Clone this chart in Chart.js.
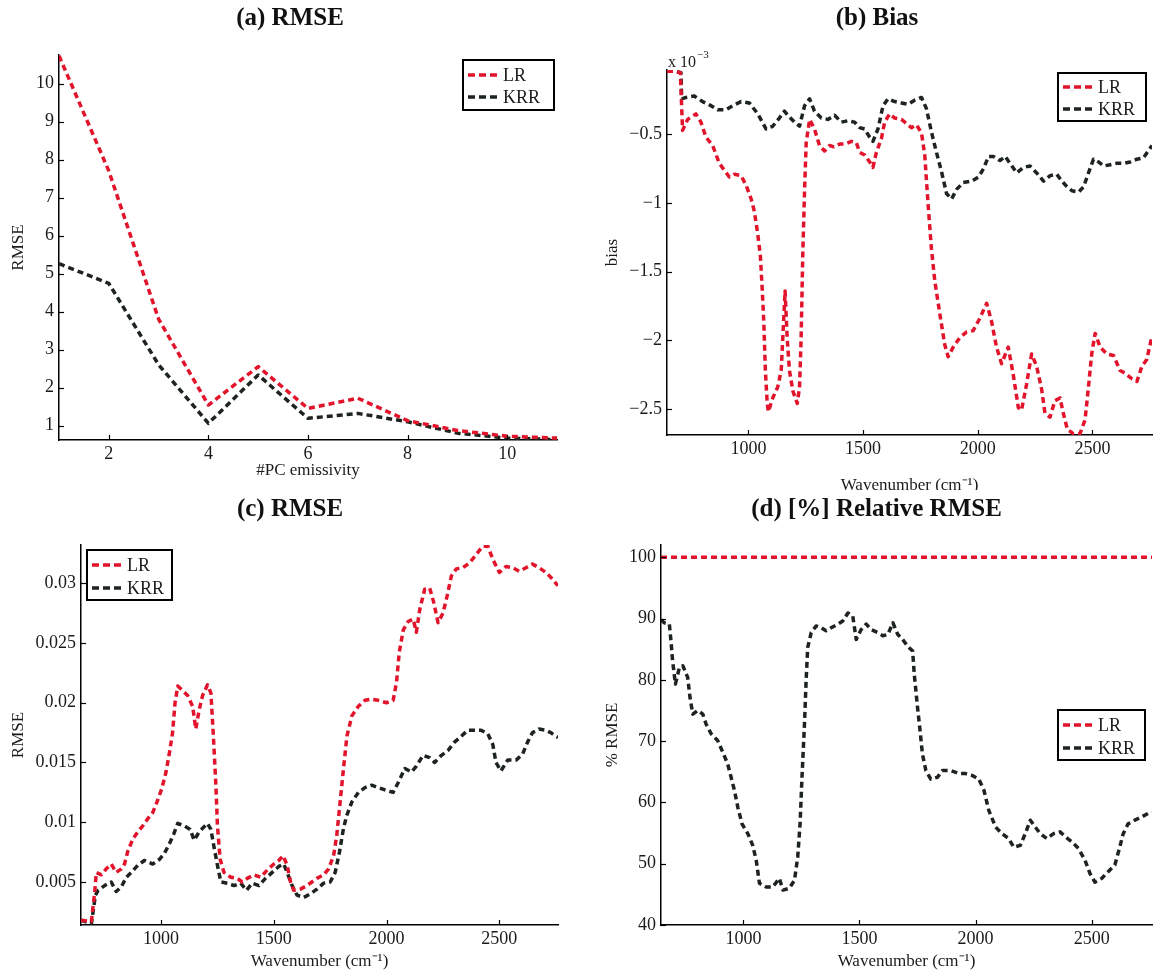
<!DOCTYPE html>
<html><head><meta charset="utf-8">
<script src="https://cdn.jsdelivr.net/npm/chart.js@4.4.1/dist/chart.umd.min.js"></script>
<style>
html,body{margin:0;padding:0;background:#fff;width:1158px;height:975px;overflow:hidden;}
canvas{position:absolute;}
</style></head><body>
<canvas id="ca" width="580" height="490" style="left:0;top:0"></canvas>
<canvas id="cb" width="578" height="490" style="left:580px;top:0"></canvas>
<canvas id="cc" width="580" height="485" style="left:0;top:490px"></canvas>
<canvas id="cd" width="578" height="485" style="left:580px;top:490px"></canvas>
<script>
// ---------- (a) RMSE vs #PC emissivity ----------
const aPC = [1,2,3,4,5,6,7,8,9,10,11];
const aLR = [10.73,7.7,3.8,1.54,2.55,1.45,1.72,1.13,0.87,0.72,0.67];
const aKRR = [5.26,4.74,2.6,1.06,2.33,1.19,1.32,1.1,0.8,0.67,0.63];
const aXTicks = [2,4,6,8,10];
const aYTicks = [1,2,3,4,5,6,7,8,9,10];

// ---------- (b) Bias (x 10^-3) ----------
const bLRWn = [645,680,703,713,735,771,793,815,844,873,895,917,939,968,990,1012,1026,1041,1052,1060,1067,1074,1082,1087,1106,1128,1143,1150,1160,1169,1179,1194,1213,1223,1230,1237,1245,1252,1267,1288,1310,1332,1354,1373,1398,1420,1449,1471,1485,1507,1529,1543,1558,1580,1594,1616,1638,1667,1682,1711,1733,1755,1769,1784,1798,1813,1835,1856,1871,1893,1922,1951,1980,2009,2039,2060,2082,2104,2133,2155,2177,2191,2213,2235,2257,2279,2293,2315,2337,2359,2373,2391,2417,2446,2468,2483,2497,2512,2534,2563,2592,2621,2643,2672,2694,2716,2737,2760];
const bLR = [-0.04,-0.04,-0.05,-0.47,-0.39,-0.35,-0.41,-0.52,-0.58,-0.71,-0.76,-0.81,-0.79,-0.80,-0.87,-0.97,-1.06,-1.23,-1.38,-1.62,-1.86,-2.22,-2.46,-2.52,-2.42,-2.34,-2.22,-1.98,-1.64,-1.98,-2.22,-2.37,-2.46,-2.34,-1.98,-1.38,-0.90,-0.56,-0.39,-0.46,-0.58,-0.62,-0.58,-0.59,-0.57,-0.57,-0.55,-0.56,-0.63,-0.65,-0.70,-0.74,-0.63,-0.53,-0.41,-0.35,-0.38,-0.39,-0.41,-0.45,-0.43,-0.49,-0.65,-1.02,-1.33,-1.57,-1.81,-2.03,-2.12,-2.05,-1.98,-1.94,-1.93,-1.84,-1.73,-1.86,-2.05,-2.17,-2.05,-2.25,-2.49,-2.51,-2.32,-2.10,-2.19,-2.36,-2.53,-2.56,-2.44,-2.42,-2.53,-2.65,-2.68,-2.68,-2.58,-2.34,-2.10,-1.95,-2.05,-2.10,-2.11,-2.22,-2.24,-2.28,-2.30,-2.19,-2.14,-1.97];
const bKRRWn = [645,680,706,709,728,764,800,837,866,902,932,968,1004,1041,1077,1106,1135,1157,1172,1201,1223,1245,1267,1288,1318,1347,1376,1405,1434,1463,1485,1507,1529,1543,1565,1587,1609,1638,1667,1696,1725,1755,1776,1798,1820,1842,1864,1886,1908,1937,1974,2003,2025,2047,2068,2097,2120,2149,2170,2199,2228,2257,2287,2316,2345,2367,2389,2411,2440,2462,2483,2505,2527,2549,2578,2607,2636,2665,2694,2723,2752,2760];
const bKRR = [-0.04,-0.04,-0.05,-0.24,-0.23,-0.22,-0.26,-0.29,-0.32,-0.32,-0.29,-0.26,-0.27,-0.35,-0.46,-0.44,-0.38,-0.33,-0.36,-0.41,-0.44,-0.29,-0.24,-0.33,-0.38,-0.39,-0.36,-0.41,-0.40,-0.41,-0.45,-0.46,-0.52,-0.55,-0.46,-0.29,-0.24,-0.26,-0.27,-0.28,-0.25,-0.23,-0.31,-0.48,-0.63,-0.77,-0.93,-0.97,-0.90,-0.85,-0.84,-0.81,-0.75,-0.66,-0.66,-0.69,-0.66,-0.73,-0.78,-0.74,-0.73,-0.78,-0.84,-0.80,-0.79,-0.84,-0.88,-0.91,-0.92,-0.88,-0.78,-0.68,-0.70,-0.73,-0.72,-0.71,-0.71,-0.70,-0.68,-0.67,-0.60,-0.58];
const wnTicks = [1000,1500,2000,2500];
const bYTicks = [-2.5,-2,-1.5,-1,-0.5];
const bYLabels = ['\u22122.5','\u22122','\u22121.5','\u22121','\u22120.5'];

// ---------- (c) RMSE vs wavenumber ----------
const cLRWn = [645,691,706,713,735,757,779,801,824,838,853,875,897,919,941,963,982,1003,1022,1037,1051,1062,1074,1096,1118,1140,1154,1169,1184,1206,1221,1232,1243,1250,1262,1279,1309,1338,1360,1382,1412,1441,1471,1500,1522,1541,1559,1574,1588,1618,1647,1691,1721,1743,1765,1779,1794,1809,1824,1846,1875,1904,1934,1963,2000,2029,2044,2056,2074,2096,2118,2132,2147,2169,2191,2209,2228,2250,2268,2287,2309,2338,2368,2397,2426,2449,2471,2500,2529,2559,2588,2618,2647,2676,2706,2728,2750,2760];
const cLR = [0.0018,0.0017,0.0042,0.0058,0.0056,0.0061,0.0065,0.0058,0.0061,0.0065,0.0076,0.0086,0.0092,0.0097,0.0103,0.0108,0.0117,0.0128,0.0142,0.0158,0.0175,0.0200,0.0214,0.0210,0.0206,0.0197,0.0178,0.0194,0.0206,0.0215,0.0208,0.0172,0.0131,0.0097,0.0069,0.0058,0.0054,0.0053,0.0050,0.0053,0.0056,0.0054,0.0060,0.0065,0.0068,0.0072,0.0064,0.0050,0.0043,0.0044,0.0047,0.0053,0.0056,0.0061,0.0072,0.0089,0.0117,0.0145,0.0172,0.0189,0.0197,0.0202,0.0203,0.0202,0.0200,0.0202,0.0217,0.0242,0.0261,0.0268,0.0270,0.0259,0.0278,0.0295,0.0296,0.0284,0.0267,0.0275,0.0289,0.0306,0.0312,0.0313,0.0317,0.0324,0.0331,0.0331,0.0320,0.0309,0.0314,0.0313,0.0310,0.0313,0.0316,0.0313,0.0309,0.0305,0.0300,0.0298];
const cKRRWn = [645,691,709,721,750,779,801,824,846,868,897,926,963,993,1015,1037,1056,1074,1103,1129,1147,1169,1206,1221,1235,1250,1265,1294,1324,1353,1379,1404,1434,1463,1493,1522,1544,1559,1581,1603,1632,1662,1691,1721,1750,1772,1791,1809,1824,1846,1875,1904,1934,1963,1993,2029,2051,2081,2110,2132,2162,2191,2213,2243,2272,2301,2331,2360,2390,2419,2449,2471,2485,2507,2537,2574,2603,2625,2647,2676,2706,2728,2750,2760];
const cKRR = [0.0018,0.0015,0.0039,0.0043,0.0047,0.0050,0.0042,0.0046,0.0054,0.0058,0.0064,0.0068,0.0065,0.0069,0.0074,0.0082,0.0090,0.0099,0.0097,0.0094,0.0085,0.0092,0.0099,0.0094,0.0079,0.0064,0.0050,0.0049,0.0047,0.0049,0.0043,0.0049,0.0047,0.0053,0.0058,0.0063,0.0065,0.0058,0.0047,0.0039,0.0037,0.0040,0.0044,0.0049,0.0050,0.0058,0.0075,0.0095,0.0106,0.0117,0.0125,0.0129,0.0131,0.0129,0.0127,0.0125,0.0133,0.0145,0.0142,0.0147,0.0156,0.0154,0.0150,0.0156,0.0160,0.0167,0.0172,0.0177,0.0177,0.0177,0.0174,0.0165,0.0150,0.0143,0.0152,0.0152,0.0157,0.0167,0.0175,0.0178,0.0177,0.0175,0.0172,0.0171];
const cYTicks = [0.005,0.01,0.015,0.02,0.025,0.03];
const cYLabels = ['0.005','0.01','0.015','0.02','0.025','0.03'];

// ---------- (d) Relative RMSE [%] ----------
const dLRWn = [645,2760];
const dLR = [100,100];
const dKRRWn = [645,659,681,688,695,707,724,739,760,770,782,803,825,839,861,889,911,932,947,961,976,994,1019,1040,1055,1069,1098,1126,1155,1170,1198,1220,1234,1244,1253,1263,1270,1277,1292,1313,1335,1356,1378,1407,1428,1450,1471,1486,1507,1529,1550,1579,1601,1622,1644,1665,1686,1707,1729,1736,1750,1761,1771,1786,1807,1836,1857,1893,1929,1957,1986,2014,2036,2057,2086,2114,2143,2164,2193,2214,2236,2257,2279,2307,2336,2364,2386,2414,2443,2471,2493,2514,2543,2571,2600,2621,2636,2657,2686,2714,2743,2760];
const dKRR = [89.8,89.3,89.1,86.3,83.1,79.3,82.0,82.3,80.4,77.1,74.4,75.0,74.4,72.8,71.2,70.1,68.2,66.3,64.1,62.0,59.2,56.5,54.9,53.0,50.6,46.8,46.2,46.2,47.6,45.7,46.0,47.3,51.1,56.5,64.7,72.8,79.8,85.3,87.7,88.8,88.5,88.0,88.5,89.1,89.6,90.9,90.4,86.6,88.2,89.1,88.2,87.7,87.2,87.4,89.3,87.4,86.6,85.5,84.7,80.9,75.5,71.7,67.9,65.2,63.8,64.1,65.2,65.2,64.7,64.7,64.4,63.8,62.0,58.7,56.0,54.9,54.1,52.7,53.0,54.9,57.1,56.0,54.9,54.1,54.9,55.2,54.4,53.6,52.5,50.6,48.4,47.0,47.6,48.7,49.8,52.7,54.9,56.5,57.1,57.6,58.2,58.3];
const dYTicks = [40,50,60,70,80,90,100];

// ---------- rendering ----------
const FONT = "'Liberation Serif', 'Times New Roman', serif";
const RED = '#e2142c';
const BLK = '#1d231f';
const TXT = '#1a1a1a';

function pairs(xs, ys) { return xs.map((x, i) => ({x: x, y: ys[i]})); }
function series(label, xs, ys, color) {
  return {label: label, data: pairs(xs, ys), borderColor: color, backgroundColor: color,
    borderWidth: 3.5, borderDash: [6, 4], borderCapStyle: 'butt', borderJoinStyle: 'round',
    pointRadius: 0, tension: 0, fill: false};
}
function labeler(vals, labels) {
  return function (v) { const i = vals.indexOf(v); return i < 0 ? '' : (labels ? labels[i] : String(v)); };
}

const deco = {
  id: 'deco',
  afterDatasetsDraw(chart, args, opts) {
    const ctx = chart.ctx;
    const ca = chart.chartArea;
    const sx = chart.scales.x, sy = chart.scales.y;
    ctx.save();
    ctx.setLineDash([]);
    ctx.strokeStyle = '#000';
    ctx.lineWidth = 1.2;
    sx.ticks.forEach(t => {
      const p = Math.round(sx.getPixelForValue(t.value)) + 0.5;
      ctx.beginPath(); ctx.moveTo(p, ca.bottom); ctx.lineTo(p, ca.bottom - 5); ctx.stroke();
    });
    sy.ticks.forEach(t => {
      const p = Math.round(sy.getPixelForValue(t.value)) + 0.5;
      ctx.beginPath(); ctx.moveTo(ca.left, p); ctx.lineTo(ca.left + 5, p); ctx.stroke();
    });
    if (opts.exp) {
      ctx.fillStyle = TXT;
      ctx.textBaseline = 'alphabetic';
      ctx.font = '16px ' + FONT;
      ctx.fillText('x 10', ca.left + 1, ca.top - 3);
      const w = ctx.measureText('x 10').width;
      ctx.font = '11px ' + FONT;
      ctx.fillText('\u22123', ca.left + 2 + w, ca.top - 12);
    }
    const L = opts.legend;
    if (L) {
      ctx.fillStyle = '#fff';
      ctx.fillRect(L.x, L.y, L.w, L.h);
      ctx.lineWidth = 2;
      ctx.strokeStyle = '#000';
      ctx.strokeRect(L.x, L.y, L.w, L.h);
      chart.data.datasets.forEach((ds, i) => {
        const cy = L.y + L.r0 + i * L.dy;
        ctx.strokeStyle = ds.borderColor;
        ctx.lineWidth = 3.5;
        ctx.setLineDash([7, 4]);
        ctx.beginPath(); ctx.moveTo(L.x + 5, cy); ctx.lineTo(L.x + 38, cy); ctx.stroke();
        ctx.setLineDash([]);
        ctx.fillStyle = TXT;
        ctx.font = '18px ' + FONT;
        ctx.textBaseline = 'middle';
        ctx.fillText(ds.label, L.x + 40, cy + 1);
      });
    }
    ctx.restore();
  }
};

function makeChart(id, c) {
  const tickFont = {family: FONT, size: 18};
  const titleFont = {family: FONT, size: 17};
  return new Chart(document.getElementById(id), {
    type: 'line',
    data: {datasets: c.datasets},
    options: {
      responsive: false, animation: false, devicePixelRatio: 1,
      layout: {padding: {left: c.padL, right: c.padR, top: 0, bottom: 0}},
      plugins: {
        legend: {display: false}, tooltip: {enabled: false},
        title: {display: true, text: c.title, color: '#111',
          font: {family: FONT, size: 25, weight: 'bold'}, padding: {top: c.tTop, bottom: c.tBot}},
        deco: {legend: c.legend, exp: c.exp}
      },
      scales: {
        x: {type: 'linear', min: c.xMin, max: c.xMax,
          afterBuildTicks: s => { s.ticks = c.xTicks.map(v => ({value: v})); },
          afterFit: s => { s.height = c.xH; },
          grid: {display: false, drawTicks: false},
          border: {display: true, color: '#000', width: 1.5},
          ticks: {font: tickFont, color: TXT, padding: 3, maxRotation: 0, autoSkip: false,
            callback: labeler(c.xTicks, null)},
          title: {display: true, text: c.xTitle, font: titleFont, color: TXT, padding: {top: 0, bottom: c.xtPad}}
        },
        y: {type: 'linear', min: c.yMin, max: c.yMax,
          afterBuildTicks: s => { s.ticks = c.yTicks.map(v => ({value: v})); },
          afterFit: s => { s.width = c.yW; },
          grid: {display: false, drawTicks: false},
          border: {display: true, color: '#000', width: 1.5},
          ticks: {font: tickFont, color: TXT, padding: 5, autoSkip: false,
            callback: labeler(c.yTicks, c.yLabels)},
          title: {display: true, text: c.yTitle, font: titleFont, color: TXT, padding: {top: c.ytPad, bottom: 0}}
        }
      }
    },
    plugins: [deco]
  });
}

const WN = 'Wavenumber (cm\u207B\u00B9)';

makeChart('ca', {
  datasets: [series('LR', aPC, aLR, RED), series('KRR', aPC, aKRR, BLK)],
  title: '(a) RMSE', xTitle: '#PC emissivity', yTitle: 'RMSE',
  xMin: 1, xMax: 11, yMin: 0.62, yMax: 10.75, xTicks: aXTicks, yTicks: aYTicks, yLabels: null,
  padL: 23, padR: 23, tTop: 4, tBot: 21, xH: 50, yW: 36, xtPad: 8.8, ytPad: -15,
  legend: {x: 463, y: 60, w: 91, h: 50, r0: 15, dy: 22}
});

makeChart('cb', {
  datasets: [series('LR', bLRWn, bLR, RED), series('KRR', bKRRWn, bKRR, BLK)],
  title: '(b) Bias', xTitle: WN, yTitle: 'bias',
  xMin: 645, xMax: 2760, yMin: -2.69, yMax: -0.03, xTicks: wnTicks, yTicks: bYTicks, yLabels: bYLabels,
  padL: 22, padR: 6, tTop: 4, tBot: 36, xH: 55, yW: 65, xtPad: -6, ytPad: 0,
  legend: {x: 478, y: 73, w: 88, h: 48, r0: 14, dy: 22}, exp: true
});

makeChart('cc', {
  datasets: [series('LR', cLRWn, cLR, RED), series('KRR', cKRRWn, cKRR, BLK)],
  title: '(c) RMSE', xTitle: WN, yTitle: 'RMSE',
  xMin: 645, xMax: 2760, yMin: 0.0014, yMax: 0.0332, xTicks: wnTicks, yTicks: cYTicks, yLabels: cYLabels,
  padL: 22, padR: 22, tTop: 5, tBot: 20, xH: 50, yW: 59, xtPad: 2.8, ytPad: -14,
  legend: {x: 87, y: 60, w: 85, h: 50, r0: 15, dy: 23}
});

makeChart('cd', {
  datasets: [series('LR', dLRWn, dLR, RED), series('KRR', dKRRWn, dKRR, BLK)],
  title: '(d) [%] Relative RMSE', xTitle: WN, yTitle: '% RMSE',
  xMin: 645, xMax: 2760, yMin: 40, yMax: 102, xTicks: wnTicks, yTicks: dYTicks, yLabels: null,
  padL: 21, padR: 6, tTop: 5, tBot: 20, xH: 50, yW: 60, xtPad: 2.8, ytPad: 1,
  legend: {x: 478, y: 220, w: 87, h: 50, r0: 15, dy: 23}
});
</script>
</body></html>
